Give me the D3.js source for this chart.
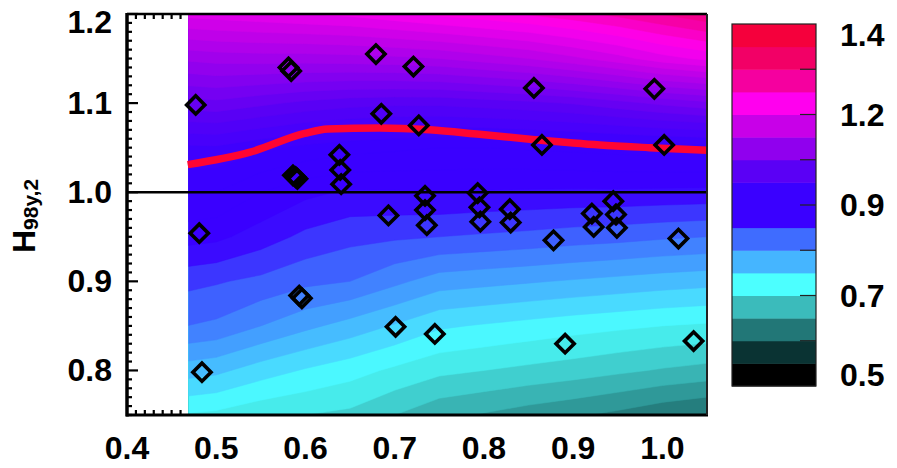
<!DOCTYPE html>
<html>
<head>
<meta charset="utf-8">
<script src="https://cdn.jsdelivr.net/npm/d3@7"></script>
<style>
  body { margin: 0; background: #fff; }
  text { font-family: "Liberation Sans", Arial, sans-serif; font-weight: bold; fill: #000; }
</style>
</head>
<body>
<svg id="chart" width="897" height="468"></svg>
<script>
// ---- data ----

// grid of the smoothed field (columns = x, rows = y from top to bottom)
var gridX = [0.45, 0.5, 0.55, 0.6, 0.65, 0.7, 0.75, 0.8, 0.85, 0.9, 0.95, 1.0, 1.05];
var gridY = [1.2, 1.15, 1.1, 1.05, 1.0, 0.95, 0.9, 0.85, 0.8, 0.75];
var field = [
  [1.185, 1.19, 1.195, 1.2, 1.205, 1.215, 1.225, 1.233, 1.242, 1.253, 1.266, 1.281, 1.296],   // 1.20
  [1.102, 1.108, 1.11, 1.11, 1.112, 1.115, 1.12, 1.13, 1.14, 1.155, 1.172, 1.192, 1.205],      // 1.15
  [1.03, 1.035, 1.025, 1.015, 1.008, 1.005, 1.005, 1.01, 1.015, 1.022, 1.033, 1.045, 1.055],  // 1.10
  [0.955, 0.957, 0.945, 0.935, 0.928, 0.924, 0.92, 0.92, 0.922, 0.925, 0.928, 0.93, 0.932],   // 1.05
  [0.925, 0.92, 0.9, 0.885, 0.877, 0.878, 0.88, 0.878, 0.877, 0.876, 0.876, 0.875, 0.874],    // 1.00
  [0.89, 0.885, 0.87, 0.855, 0.846, 0.843, 0.84, 0.837, 0.834, 0.83, 0.827, 0.823, 0.82],     // 0.95
  [0.848, 0.842, 0.835, 0.825, 0.82, 0.805, 0.79, 0.786, 0.782, 0.778, 0.774, 0.77, 0.767],   // 0.90
  [0.822, 0.816, 0.80, 0.785, 0.772, 0.758, 0.743, 0.738, 0.733, 0.728, 0.724, 0.72, 0.717],  // 0.85
  [0.772, 0.765, 0.75, 0.738, 0.728, 0.716, 0.705, 0.70, 0.695, 0.69, 0.684, 0.678, 0.673],   // 0.80
  [0.72, 0.715, 0.705, 0.70, 0.695, 0.68, 0.665, 0.658, 0.65, 0.643, 0.635, 0.625, 0.618]     // 0.75
];
var fieldStartX = 0.469;   // left edge of the coloured area

// red curve
var curveX = [0.468, 0.538, 0.599, 0.625, 0.683, 0.739, 0.795, 0.857, 0.93, 0.986, 1.05];
var curveY = [1.031, 1.045, 1.066, 1.071, 1.072, 1.070, 1.065, 1.059, 1.053, 1.050, 1.047];

// diamonds
var ptX = [0.477, 0.481, 0.484, 0.581, 0.584, 0.586, 0.589, 0.591, 0.593, 0.596,
           0.638, 0.639, 0.640, 0.679, 0.685, 0.693, 0.701, 0.721, 0.727, 0.734,
           0.734, 0.736, 0.745, 0.793, 0.795, 0.796, 0.829, 0.830, 0.856, 0.865,
           0.878, 0.891, 0.921, 0.923, 0.945, 0.948, 0.949, 0.991, 1.002, 1.018, 1.035];
var ptY = [1.098, 0.954, 0.798, 1.140, 1.136, 1.019, 1.017, 1.015, 0.884, 0.881,
           1.042, 1.025, 1.009, 1.155, 1.088, 0.974, 0.849, 1.141, 1.075, 0.996,
           0.980, 0.963, 0.841, 0.999, 0.983, 0.967, 0.981, 0.966, 1.117, 1.053,
           0.946, 0.830, 0.976, 0.961, 0.990, 0.975, 0.960, 1.116, 1.053, 0.948, 0.833];

// colour bar
var barLevels = [0.45, 0.55, 0.6, 0.65, 0.7, 0.75, 0.8, 0.85, 0.9, 0.975, 1.05, 1.125, 1.2, 1.25, 1.3, 1.35, 1.45];
var barColors = ["#000000", "#0a3333", "#227777", "#3bbbbb", "#4cffff", "#45b5ff", "#3f6cff", "#3a00ff",
                 "#3a00ff", "#5a00f5", "#9000ee", "#c800e8", "#ff00ee", "#f5009f", "#f20066", "#f5003c"];
var barLabels = [0.5, 0.7, 0.9, 1.2, 1.4];
var barTicks = [0.6, 0.7, 0.8, 0.9, 1.05, 1.2, 1.3];

var xTicks = [0.4, 0.5, 0.6, 0.7, 0.8, 0.9, 1.0];
var yTicks = [0.8, 0.9, 1.0, 1.1, 1.2];

// ---- drawing ----
var svg = d3.select("#chart");
var x = d3.scaleLinear().domain([0.4, 1.05]).range([127, 707]);
var y = d3.scaleLinear().domain([0.75, 1.2]).range([415, 14]);

var centers = d3.range(barColors.length).map(function(i) { return (barLevels[i] + barLevels[i + 1]) / 2; });
var color = d3.scaleLinear().domain(centers).range(barColors).clamp(true);

svg.append("clipPath").attr("id", "plotclip")
  .append("rect")
  .attr("x", x(fieldStartX)).attr("y", y(1.2))
  .attr("width", x(1.05) - x(fieldStartX)).attr("height", y(0.75) - y(1.2));

// filled contours
var nx = gridX.length, ny = gridY.length;
var values = [].concat.apply([], field);
var step = 0.02;
var thresholds = d3.range(48).map(function(i) { return 0.5 + i * step; });
var contours = d3.contours().size([nx, ny]).thresholds(thresholds)(values);
var dxg = gridX[1] - gridX[0], dyg = gridY[1] - gridY[0];
var proj = d3.geoTransform({
  point: function(gx, gy) {
    this.stream.point(x(gridX[0] + (gx - 0.5) * dxg), y(gridY[0] + (gy - 0.5) * dyg));
  }
});
var path = d3.geoPath(proj);

svg.append("g").attr("clip-path", "url(#plotclip)")
  .selectAll("path").data(contours).enter().append("path")
  .attr("d", path)
  .attr("fill", function(d) { return color(d.value + step / 2); })
  .attr("stroke", function(d) { return color(d.value + step / 2); })
  .attr("stroke-width", 0.5);

// reference line at 1.0
svg.append("line")
  .attr("x1", x(0.4)).attr("x2", x(1.05))
  .attr("y1", y(1.0)).attr("y2", y(1.0))
  .attr("stroke", "#000").attr("stroke-width", 2.5);

// red curve
var line = d3.line()
  .x(function(d, i) { return x(curveX[i]); })
  .y(function(d, i) { return y(curveY[i]); })
  .curve(d3.curveMonotoneX);
svg.append("path")
  .attr("d", line(curveX))
  .attr("fill", "none").attr("stroke", "#ff0533").attr("stroke-width", 7.5);

// diamonds
var sym = d3.symbol().type(d3.symbolSquare).size(165);
svg.append("g").selectAll("path").data(ptX).enter().append("path")
  .attr("d", sym)
  .attr("transform", function(d, i) { return "translate(" + x(ptX[i]) + "," + y(ptY[i]) + ") rotate(45)"; })
  .attr("fill", "none").attr("stroke", "#000").attr("stroke-width", 3.6);

// axes: minor ticks only visible in the white strip
var minorX = d3.range(1, 7).map(function(i) { return 0.4 + i * 0.01; });
var minorY = d3.range(46).map(function(i) { return 0.75 + i * 0.01; });
var ax = svg.append("g").attr("stroke", "#000");
ax.selectAll("line.mxb").data(minorX).enter().append("line")
  .attr("x1", function(d) { return x(d); }).attr("x2", function(d) { return x(d); })
  .attr("y1", y(0.75)).attr("y2", y(0.75) - 5).attr("stroke-width", 2.2);
ax.selectAll("line.mxt").data(minorX).enter().append("line")
  .attr("x1", function(d) { return x(d); }).attr("x2", function(d) { return x(d); })
  .attr("y1", y(1.2)).attr("y2", y(1.2) + 5).attr("stroke-width", 2.2);
ax.selectAll("line.my").data(minorY).enter().append("line")
  .attr("x1", x(0.4)).attr("x2", function(d) {
    var major = yTicks.some(function(t) { return Math.abs(t - d) < 1e-6; });
    return x(0.4) + (major ? 11 : 5);
  })
  .attr("y1", function(d) { return y(d); }).attr("y2", function(d) { return y(d); })
  .attr("stroke-width", 2.2);

// frame
ax.append("line").attr("x1", x(0.4)).attr("x2", x(1.05)).attr("y1", y(1.2)).attr("y2", y(1.2)).attr("stroke-width", 2.5);
ax.append("line").attr("x1", x(0.4) - 1).attr("x2", x(1.05) + 1).attr("y1", y(0.75)).attr("y2", y(0.75)).attr("stroke-width", 3);
ax.append("line").attr("x1", x(0.4)).attr("x2", x(0.4)).attr("y1", y(1.2) - 1).attr("y2", y(0.75) + 1.5).attr("stroke-width", 3.5);
ax.append("line").attr("x1", x(1.05)).attr("x2", x(1.05)).attr("y1", y(1.2)).attr("y2", y(0.75)).attr("stroke", "#222").attr("stroke-width", 2);

// tick labels
svg.append("g").selectAll("text").data(xTicks).enter().append("text")
  .attr("x", function(d) { return x(d); }).attr("y", 459)
  .attr("text-anchor", "middle").attr("font-size", 32)
  .text(function(d) { return d.toFixed(1); });
svg.append("g").selectAll("text").data(yTicks).enter().append("text")
  .attr("x", x(0.4) - 15).attr("y", function(d) { return Math.max(y(d), 22) + 11; })
  .attr("text-anchor", "end").attr("font-size", 32)
  .text(function(d) { return d.toFixed(1); });

// y title
var yt = svg.append("text").attr("transform", "translate(35,253) rotate(-90)").attr("font-size", 32);
yt.append("tspan").text("H");
yt.append("tspan").attr("font-size", 21).attr("dy", 3).text("98y,2");

// colour bar
var cb = d3.scaleLinear().domain(barLevels)
  .range(barLevels.map(function(d, i) { return 386 - i * (362 / 16); }));
var cbg = svg.append("g");
cbg.selectAll("rect").data(barColors).enter().append("rect")
  .attr("x", 732).attr("width", 84)
  .attr("y", function(d, i) { return cb(barLevels[i + 1]); })
  .attr("height", function(d, i) { return cb(barLevels[i]) - cb(barLevels[i + 1]) + 0.5; })
  .attr("fill", function(d) { return d; });
cbg.append("rect").attr("x", 732).attr("y", cb(1.45)).attr("width", 84).attr("height", cb(0.45) - cb(1.45))
  .attr("fill", "none").attr("stroke", "#222").attr("stroke-width", 1.2);
cbg.selectAll("line").data(barTicks).enter().append("line")
  .attr("x1", 800).attr("x2", 816)
  .attr("y1", function(d) { return cb(d); }).attr("y2", function(d) { return cb(d); })
  .attr("stroke", "#222").attr("stroke-width", 1.2);
cbg.selectAll("text").data(barLabels).enter().append("text")
  .attr("x", 840).attr("y", function(d) { return cb(d) + 11; })
  .attr("font-size", 32)
  .text(function(d) { return d.toFixed(1); });
</script>
</body>
</html>
